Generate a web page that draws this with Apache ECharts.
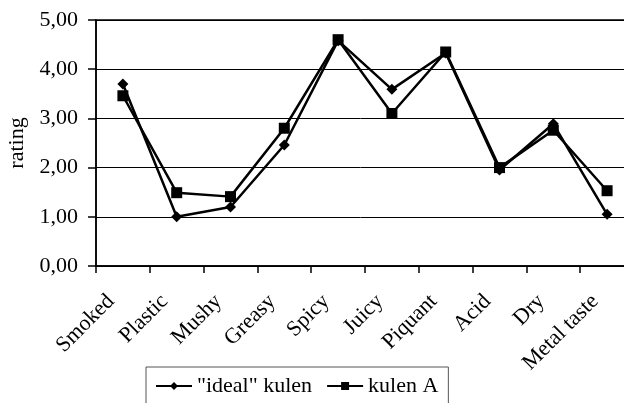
<!DOCTYPE html>
<html>
<head>
<meta charset="utf-8">
<script src="https://cdn.jsdelivr.net/npm/echarts@6/dist/echarts.min.js"></script>
<style>
html, body { margin: 0; padding: 0; background: #fff; }
#chart { width: 624px; height: 403px; }
</style>
</head>
<body>
<div id="chart"></div>
<script>
var categories = ['Smoked', 'Plastic', 'Mushy', 'Greasy', 'Spicy', 'Juicy', 'Piquant', 'Acid', 'Dry', 'Metal taste'];
var idealKulen = [3.70, 1.00, 1.20, 2.46, 4.58, 3.59, 4.33, 1.95, 2.89, 1.05];
var kulenA = [3.46, 1.49, 1.41, 2.80, 4.60, 3.10, 4.35, 2.00, 2.76, 1.53];
var seriesNames = ['"ideal" kulen', 'kulen A'];

var fontFamily = '"Liberation Serif", "Times New Roman", serif';

var myChart = echarts.init(document.getElementById('chart'), null, { renderer: 'canvas' });

var option = {
    animation: false,
    backgroundColor: '#fff',
    grid: {
        left: 96,
        top: 20,
        right: -10,
        bottom: 137,
        containLabel: false,
        outerBoundsMode: 'none',
        show: true,
        borderColor: '#000',
        borderWidth: 1.5
    },
    legend: {
        data: seriesNames,
        left: 146,
        top: 367,
        padding: [8, 10, 10, 9],
        borderColor: '#555',
        borderWidth: 1,
        itemWidth: 36,
        itemHeight: 10,
        itemGap: 14,
        textStyle: { fontFamily: fontFamily, fontSize: 22, color: '#000' }
    },
    xAxis: {
        type: 'category',
        data: categories,
        boundaryGap: true,
        axisLine: { lineStyle: { color: '#000', width: 1.5 } },
        axisTick: { show: true, length: 7, lineStyle: { color: '#000', width: 1.5 } },
        axisLabel: {
            rotate: 45,
            margin: 20,
            padding: [0, 17, 0, 0],
            interval: 0,
            fontFamily: fontFamily,
            fontSize: 22,
            color: '#000'
        },
        splitLine: { show: false }
    },
    yAxis: {
        type: 'value',
        min: 0,
        max: 5,
        interval: 1,
        name: 'rating',
        nameLocation: 'middle',
        nameRotate: 90,
        nameGap: 68,
        nameTextStyle: { fontFamily: fontFamily, fontSize: 22, color: '#000' },
        axisLine: { show: true, lineStyle: { color: '#000', width: 1.5 } },
        axisTick: { show: true, length: 8, lineStyle: { color: '#000', width: 1.5 } },
        axisLabel: {
            margin: 18,
            fontFamily: fontFamily,
            fontSize: 22,
            color: '#000',
            formatter: function (v) { return v.toFixed(2).replace('.', ','); }
        },
        splitLine: { show: true, lineStyle: { color: '#000', width: 1 } }
    },
    series: [
        {
            name: seriesNames[0],
            type: 'line',
            data: idealKulen,
            symbol: 'diamond',
            symbolSize: 11,
            lineStyle: { color: '#000', width: 2.5 },
            itemStyle: { color: '#000' },
            z: 3
        },
        {
            name: seriesNames[1],
            type: 'line',
            data: kulenA,
            symbol: 'rect',
            symbolSize: 11,
            lineStyle: { color: '#000', width: 2.5 },
            itemStyle: { color: '#000' },
            z: 2
        }
    ]
};

myChart.setOption(option);
</script>
</body>
</html>
